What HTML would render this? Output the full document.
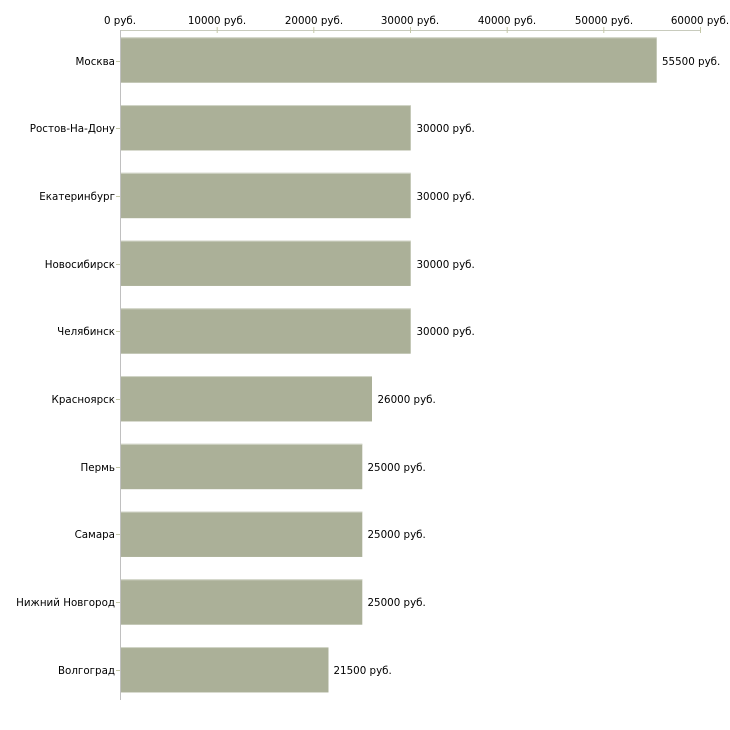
<!DOCTYPE html>
<html><head><meta charset="utf-8"><style>
html,body{margin:0;padding:0;background:#fff;}
svg{display:block;}
text{font-family:"DejaVu Sans","Liberation Sans",sans-serif;font-size:10.3px;fill:#000;}
</style></head><body>
<svg width="730" height="730" viewBox="0 0 730 730" xmlns="http://www.w3.org/2000/svg">
<!-- top axis -->
<line x1="120" y1="30.5" x2="701" y2="30.5" stroke="#c8cbbd" stroke-width="1"/>
<g stroke="#c4c8a8" stroke-width="1">
<line x1="217.2" y1="27" x2="217.2" y2="33"/>
<line x1="313.8" y1="27" x2="313.8" y2="33"/>
<line x1="410.5" y1="27" x2="410.5" y2="33"/>
<line x1="507.2" y1="27" x2="507.2" y2="33"/>
<line x1="603.8" y1="27" x2="603.8" y2="33"/>
<line x1="700.5" y1="27" x2="700.5" y2="33"/>
</g>
<g text-anchor="middle">
<text x="120" y="24">0 руб.</text>
<text x="217" y="24">10000 руб.</text>
<text x="314" y="24">20000 руб.</text>
<text x="410" y="24">30000 руб.</text>
<text x="507" y="24">40000 руб.</text>
<text x="604" y="24">50000 руб.</text>
<text x="700" y="24">60000 руб.</text>
</g>
<!-- bars -->
<g fill="#abb098">
<rect x="121" y="37.3" width="535.7" height="45.4"/>
<rect x="121" y="105.05" width="289.7" height="45.4"/>
<rect x="121" y="172.8" width="289.7" height="45.4"/>
<rect x="121" y="240.55" width="289.7" height="45.4"/>
<rect x="121" y="308.3" width="289.7" height="45.4"/>
<rect x="121" y="376.05" width="251" height="45.4"/>
<rect x="121" y="443.8" width="241.3" height="45.4"/>
<rect x="121" y="511.55" width="241.3" height="45.4"/>
<rect x="121" y="579.3" width="241.3" height="45.4"/>
<rect x="121" y="647.05" width="207.5" height="45.4"/>
</g>
<g fill="#d2d5c8">
<rect x="121" y="37.3" width="535.7" height="1"/>
<rect x="121" y="105.05" width="289.7" height="1"/>
<rect x="121" y="172.8" width="289.7" height="1"/>
<rect x="121" y="240.55" width="289.7" height="1"/>
<rect x="121" y="308.3" width="289.7" height="1"/>
<rect x="121" y="376.05" width="251" height="1"/>
<rect x="121" y="443.8" width="241.3" height="1"/>
<rect x="121" y="511.55" width="241.3" height="1"/>
<rect x="121" y="579.3" width="241.3" height="1"/>
<rect x="121" y="647.05" width="207.5" height="1"/>
</g>
<!-- left axis -->
<line x1="120.5" y1="30" x2="120.5" y2="700" stroke="#c0c0c0" stroke-width="1"/>
<g stroke="#c4c8a8" stroke-width="1">
<line x1="116" y1="61.5" x2="120" y2="61.5"/>
<line x1="116" y1="128.5" x2="120" y2="128.5"/>
<line x1="116" y1="196.5" x2="120" y2="196.5"/>
<line x1="116" y1="264.5" x2="120" y2="264.5"/>
<line x1="116" y1="331.5" x2="120" y2="331.5"/>
<line x1="116" y1="399.5" x2="120" y2="399.5"/>
<line x1="116" y1="467.5" x2="120" y2="467.5"/>
<line x1="116" y1="534.5" x2="120" y2="534.5"/>
<line x1="116" y1="602.5" x2="120" y2="602.5"/>
<line x1="116" y1="670.5" x2="120" y2="670.5"/>
</g>
<g text-anchor="end">
<text x="115" y="65">Москва</text>
<text x="115" y="132">Ростов-На-Дону</text>
<text x="115" y="200">Екатеринбург</text>
<text x="115" y="268">Новосибирск</text>
<text x="115" y="335">Челябинск</text>
<text x="115" y="403">Красноярск</text>
<text x="115" y="471">Пермь</text>
<text x="115" y="538">Самара</text>
<text x="115" y="606">Нижний Новгород</text>
<text x="115" y="674">Волгоград</text>
</g>
<g>
<text x="662" y="65">55500 руб.</text>
<text x="416.5" y="132">30000 руб.</text>
<text x="416.5" y="200">30000 руб.</text>
<text x="416.5" y="268">30000 руб.</text>
<text x="416.5" y="335">30000 руб.</text>
<text x="377.5" y="403">26000 руб.</text>
<text x="367.5" y="471">25000 руб.</text>
<text x="367.5" y="538">25000 руб.</text>
<text x="367.5" y="606">25000 руб.</text>
<text x="333.5" y="674">21500 руб.</text>
</g>
</svg>
</body></html>
